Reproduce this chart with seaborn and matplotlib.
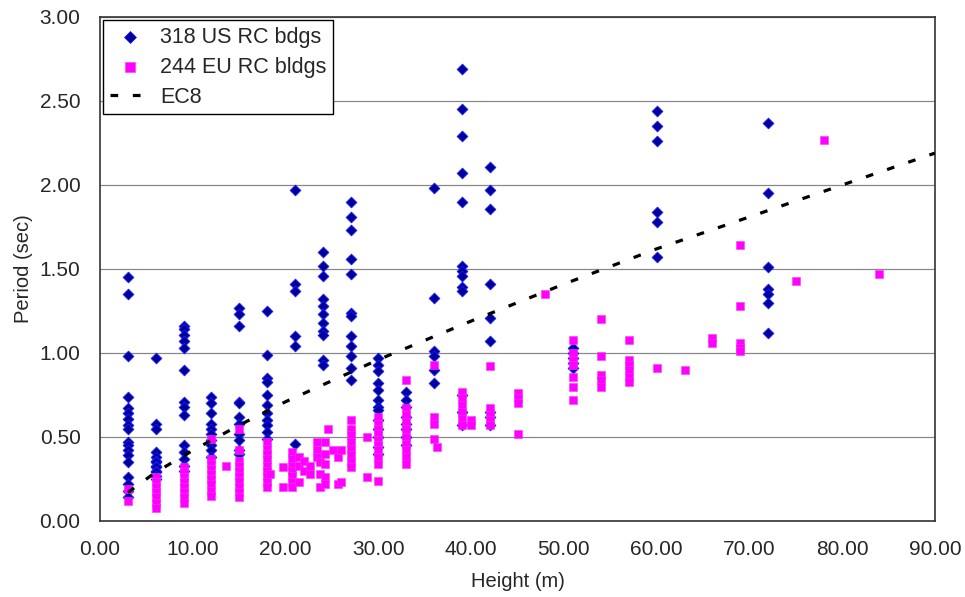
import matplotlib
matplotlib.use('Agg')
import matplotlib.pyplot as plt
import matplotlib.ticker as mticker
import numpy as np
import pandas as pd
import seaborn as sns

# --- US RC buildings: heights (m) and the periods (sec) read at each height ---
us_heights = [3, 6, 9, 12, 15, 18, 21, 24, 27, 30, 33, 36, 39, 42, 51, 60, 72]
us_periods = [
    [1.45, 1.35, 0.98, 0.74, 0.67, 0.64, 0.61, 0.57, 0.55, 0.47, 0.45, 0.42, 0.39, 0.35, 0.26, 0.22, 0.18, 0.14],
    [0.97, 0.58, 0.55, 0.41, 0.38, 0.36, 0.35, 0.33, 0.32, 0.30, 0.29, 0.27, 0.25],
    [1.16, 1.14, 1.11, 1.07, 1.03, 0.90, 0.71, 0.68, 0.63, 0.45, 0.41, 0.37, 0.33, 0.30],
    [0.74, 0.70, 0.64, 0.58, 0.55, 0.52, 0.48, 0.45, 0.42, 0.38],
    [1.27, 1.23, 1.16, 0.71, 0.70, 0.62, 0.58, 0.52, 0.48, 0.42, 0.40],
    [1.25, 0.99, 0.85, 0.83, 0.75, 0.69, 0.64, 0.60, 0.57, 0.53, 0.49],
    [1.97, 1.41, 1.37, 1.10, 1.04, 0.46],
    [1.60, 1.52, 1.46, 1.32, 1.28, 1.23, 1.18, 1.13, 1.11, 0.96, 0.93],
    [1.90, 1.81, 1.73, 1.56, 1.47, 1.24, 1.22, 1.10, 1.04, 0.98, 0.91, 0.84],
    [0.97, 0.93, 0.89, 0.82, 0.78, 0.72, 0.68, 0.66, 0.60, 0.55, 0.50, 0.44, 0.40],
    [0.77, 0.72, 0.68, 0.62, 0.58, 0.55, 0.50, 0.45],
    [1.98, 1.33, 1.01, 0.98, 0.90, 0.82],
    [2.69, 2.45, 2.29, 2.07, 1.90, 1.52, 1.49, 1.46, 1.39, 1.37, 0.75, 0.65, 0.57],
    [2.11, 1.97, 1.86, 1.41, 1.21, 1.07, 0.65, 0.62, 0.57],
    [1.03, 1.00, 0.97, 0.94, 0.91],
    [2.44, 2.35, 2.26, 1.84, 1.78, 1.57],
    [2.37, 1.95, 1.51, 1.38, 1.35, 1.30, 1.12],
]

# --- EU RC buildings ---
eu_heights = [3, 6, 9, 12, 13.6, 15, 18, 18.3, 19.7, 20.7, 21.5, 22.0, 22.6, 23.4, 23.7,
              24.2, 24.6, 25.1, 25.7, 26.0, 27, 28.8, 30, 33, 36, 36.3, 39, 40, 42, 45,
              48, 51, 54, 57, 60, 63, 66, 69, 75, 78, 84]
eu_periods = [
    [0.19, 0.12],
    [0.26, 0.23, 0.20, 0.17, 0.14, 0.11, 0.08],
    [0.32, 0.29, 0.26, 0.23, 0.20, 0.17, 0.14, 0.11],
    [0.49, 0.37, 0.34, 0.31, 0.28, 0.25, 0.22, 0.18, 0.15],
    [0.33],
    [0.55, 0.42, 0.36, 0.33, 0.30, 0.27, 0.24, 0.20, 0.17, 0.14],
    [0.47, 0.43, 0.40, 0.37, 0.33, 0.30, 0.27, 0.23, 0.20],
    [0.28],
    [0.32, 0.20],
    [0.41, 0.37, 0.33, 0.30, 0.27, 0.23, 0.20],
    [0.38, 0.33, 0.23],
    [0.36, 0.30],
    [0.33, 0.28],
    [0.47, 0.42, 0.38],
    [0.35, 0.28, 0.20],
    [0.47, 0.40, 0.34, 0.26, 0.22],
    [0.55],
    [0.42],
    [0.38, 0.22],
    [0.42, 0.23],
    [0.60, 0.55, 0.51, 0.47, 0.43, 0.39, 0.35, 0.32],
    [0.50, 0.26],
    [0.62, 0.58, 0.55, 0.52, 0.48, 0.45, 0.42, 0.38, 0.34, 0.24],
    [0.84, 0.67, 0.63, 0.59, 0.55, 0.50, 0.46, 0.42, 0.38, 0.34],
    [0.93, 0.62, 0.58, 0.49],
    [0.44],
    [0.77, 0.73, 0.69, 0.65, 0.61, 0.57],
    [0.60, 0.57],
    [0.92, 0.67, 0.63, 0.60, 0.57],
    [0.76, 0.73, 0.70, 0.52],
    [1.35],
    [1.08, 1.00, 0.96, 0.93, 0.86, 0.80, 0.72],
    [1.20, 0.98, 0.87, 0.84, 0.80],
    [1.08, 0.96, 0.93, 0.90, 0.86, 0.83],
    [0.91],
    [0.90],
    [1.09, 1.06],
    [1.64, 1.28, 1.06, 1.03, 1.01],
    [1.43],
    [2.27],
    [1.47],
]

# --- EC8 curve ---
ec8_heights = [3, 6, 10, 15, 20, 30, 40, 50, 60, 70, 80, 90]
ec8_periods = [0.17, 0.29, 0.42, 0.57, 0.71, 0.96, 1.19, 1.41, 1.62, 1.81, 2.00, 2.19]


def to_frame(heights, periods):
    rows = [(h, p) for h, col in zip(heights, periods) for p in col]
    return pd.DataFrame(rows, columns=['height', 'period'])


us_df = to_frame(us_heights, us_periods)
eu_df = to_frame(eu_heights, eu_periods)
ec8_df = pd.DataFrame({'height': ec8_heights, 'period': ec8_periods})

sns.set_style('white')
plt.rcParams['font.family'] = ['Liberation Sans', 'DejaVu Sans']

fig = plt.figure(figsize=(9.65, 5.97), dpi=100)
ax = fig.add_axes([100 / 965, 1 - 521 / 597, 835 / 965, 504 / 597])

sns.scatterplot(data=us_df, x='height', y='period', ax=ax, marker='D', s=30,
                color='#000099', edgecolor='#1a1aff', linewidth=0.6,
                label='318 US RC bdgs', zorder=3)
sns.scatterplot(data=eu_df, x='height', y='period', ax=ax, marker='s', s=40,
                color='#ff00ff', edgecolor='#ff33ff', linewidth=0.4,
                label='244 EU RC bldgs', zorder=4)
sns.lineplot(data=ec8_df, x='height', y='period', ax=ax, color='black',
             linewidth=2.3, linestyle=(0, (2.4, 4.6)), label='EC8', zorder=5)

ax.set_xlim(0, 90)
ax.set_ylim(0, 3)
ax.xaxis.set_major_locator(mticker.MultipleLocator(10))
ax.yaxis.set_major_locator(mticker.MultipleLocator(0.5))
ax.xaxis.set_major_formatter(mticker.FormatStrFormatter('%.2f'))
ax.yaxis.set_major_formatter(mticker.FormatStrFormatter('%.2f'))
ax.grid(axis='y', color='#888888', linewidth=0.9)
ax.set_axisbelow(True)
for side in ['left', 'right', 'top', 'bottom']:
    ax.spines[side].set_color('#333333')
    ax.spines[side].set_linewidth(1.2)
ax.tick_params(axis='both', direction='out', length=6, width=1, color='#333333',
               labelsize=15)
ax.tick_params(axis='y', pad=8)
ax.tick_params(axis='x', pad=8)

ax.set_xlabel('Height (m)', fontsize=14.5, labelpad=9)
ax.set_ylabel('Period (sec)', fontsize=14.5, labelpad=5)

leg = ax.legend(loc='upper left', bbox_to_anchor=(0.0, 1.0), borderaxespad=0.15,
                fontsize=15.5, frameon=True, fancybox=False, framealpha=1,
                edgecolor='black', handlelength=1.9, handletextpad=0.45,
                labelspacing=0.42, borderpad=0.3, markerscale=1.1)
leg.get_frame().set_linewidth(1.0)

fig.savefig('out.png', dpi=100)
